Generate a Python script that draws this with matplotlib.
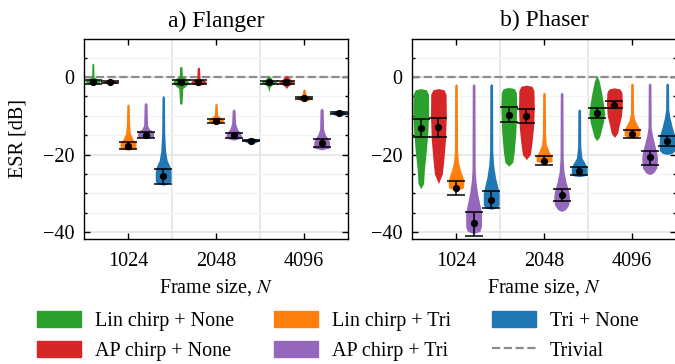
import numpy as np
import matplotlib
matplotlib.use("Agg")
import matplotlib.pyplot as plt
from matplotlib.patches import Patch
from matplotlib.lines import Line2D
from matplotlib.ticker import MultipleLocator, FixedLocator

plt.rcParams['font.family'] = 'serif'
plt.rcParams['font.serif'] = ['Liberation Serif', 'DejaVu Serif']
plt.rcParams['mathtext.fontset'] = 'stix'
plt.rcParams['font.size'] = 14.5

# frame sizes and methods
frame_sizes = ['1024', '2048', '4096']
methods = ['Lin chirp + None', 'AP chirp + None', 'Lin chirp + Tri',
           'AP chirp + Tri', 'Tri + None']
colors = ['#2ca02c', '#d62728', '#ff7f0e', '#9467bd', '#1f77b4']

# mean ESR and error bar ends [dB], rows = frame size, cols = method
flanger_mean = [[-1.3, -1.3, -17.7, -14.9, -25.5],
                [-1.4, -1.3, -11.4, -15.0, -16.4],
                [-1.4, -1.4, -5.5, -17.0, -9.3]]
flanger_lo = [[-1.7, -1.6, -18.6, -15.7, -27.5],
              [-1.9, -1.7, -11.9, -15.7, -16.6],
              [-1.8, -1.8, -5.8, -18.1, -9.5]]
flanger_hi = [[-0.9, -1.0, -16.9, -14.3, -23.7],
              [-0.9, -0.9, -10.8, -14.4, -16.2],
              [-1.0, -1.0, -5.2, -16.0, -9.1]]

phaser_mean = [[-13.2, -13.0, -28.6, -37.8, -31.7],
               [-9.7, -10.0, -21.6, -30.4, -24.3],
               [-9.3, -7.1, -14.7, -20.7, -16.6]]
phaser_lo = [[-15.4, -15.4, -30.5, -41.0, -33.9],
             [-11.7, -11.8, -22.6, -32.1, -25.2],
             [-10.6, -8.1, -15.7, -22.6, -17.9]]
phaser_hi = [[-10.8, -10.6, -26.9, -34.8, -29.5],
             [-7.8, -8.2, -20.5, -28.9, -23.3],
             [-8.0, -6.1, -13.7, -19.0, -15.3]]

# violin outlines: (ESR dB, relative half width)
flanger_shapes = [
    # 1024
    [(3.6, 0), (3.3, 0.12), (0.0, 0.15), (-0.6, 0.6), (-1.0, 1.0), (-1.5, 0.8), (-2.0, 0)],
    [(-0.7, 0), (-1.0, 0.6), (-1.3, 1.0), (-1.6, 0.6), (-1.9, 0)],
    [(-6.9, 0), (-7.3, 0.15), (-12, 0.2), (-14.5, 0.3), (-16, 0.6), (-16.8, 1.0), (-18.3, 1.0), (-18.7, 0.5), (-18.9, 0)],
    [(-6.5, 0), (-7.0, 0.18), (-12.5, 0.25), (-13.5, 0.5), (-14.1, 1.0), (-15.5, 1.0), (-15.8, 0)],
    [(-4.7, 0), (-5.2, 0.15), (-15, 0.2), (-19, 0.3), (-21.5, 0.5), (-23.3, 0.9), (-24.5, 1.0), (-27, 1.0), (-27.6, 0.6), (-27.9, 0)],
    # 2048
    [(2.8, 0), (2.5, 0.15), (0.2, 0.2), (-0.5, 0.7), (-1.3, 1.0), (-2.2, 0.7), (-3.0, 0.25), (-6.8, 0.15), (-7.1, 0)],
    [(2.6, 0), (2.3, 0.15), (-0.4, 0.2), (-0.8, 0.7), (-1.3, 1.0), (-1.8, 0.7), (-2.2, 0)],
    [(-6.7, 0), (-7.1, 0.15), (-9.8, 0.2), (-10.5, 0.6), (-11.2, 1.0), (-11.8, 0.7), (-12.2, 0)],
    [(-8.2, 0), (-8.6, 0.18), (-12, 0.25), (-13.5, 0.5), (-14.5, 0.9), (-15.5, 1.0), (-16.0, 0.6), (-16.3, 0)],
    [(-15.6, 0), (-15.9, 0.6), (-16.4, 1.0), (-16.9, 0.6), (-17.3, 0)],
    # 4096
    [(0.4, 0), (0.1, 0.15), (-0.8, 0.5), (-1.3, 1.0), (-1.9, 0.5), (-2.5, 0.15), (-3.9, 0)],
    [(0.4, 0), (0.1, 0.2), (-0.8, 0.6), (-1.3, 1.0), (-1.9, 0.6), (-2.4, 0.2), (-3.0, 0)],
    [(-3.0, 0), (-3.4, 0.15), (-4.6, 0.25), (-5.1, 0.8), (-5.5, 1.0), (-5.9, 0.7), (-6.3, 0)],
    [(-8.0, 0), (-8.5, 0.2), (-13.5, 0.25), (-15, 0.5), (-16.2, 0.9), (-17, 1.0), (-18.3, 1.0), (-18.8, 0)],
    [(-8.4, 0), (-8.8, 0.6), (-9.3, 1.0), (-9.8, 0.6), (-10.1, 0)],
]

phaser_shapes = [
    # 1024
    [(-3.0, 0), (-3.3, 0.7), (-4.5, 0.97), (-9, 1.0), (-14, 0.9), (-19, 0.7), (-24, 0.45), (-27.5, 0.35), (-28.8, 0)],
    [(-3.0, 0), (-3.3, 0.7), (-4.5, 0.97), (-10, 1.0), (-16, 0.9), (-21, 0.7), (-25, 0.5), (-27.5, 0)],
    [(-1.7, 0), (-2.1, 0.17), (-19, 0.2), (-21.8, 0.3), (-24, 0.55), (-26, 0.9), (-27.5, 1.0), (-28.7, 0.9), (-29.2, 0)],
    [(-1.7, 0), (-2.1, 0.17), (-24, 0.2), (-27, 0.3), (-30, 0.5), (-33, 0.8), (-35, 1.0), (-38.5, 1.0), (-39.8, 0.8), (-40.4, 0)],
    [(-1.7, 0), (-2.1, 0.17), (-19, 0.2), (-22.6, 0.3), (-26, 0.55), (-28.5, 0.85), (-30, 1.0), (-33, 1.0), (-33.8, 0.7), (-34.1, 0)],
    # 2048
    [(-2.7, 0), (-3.0, 0.7), (-4.0, 0.95), (-8, 1.0), (-14, 0.9), (-19, 0.7), (-22, 0.5), (-23.0, 0)],
    [(-2.1, 0), (-2.4, 0.7), (-3.5, 0.95), (-8, 1.0), (-13, 0.9), (-17, 0.7), (-20, 0.5), (-21.3, 0)],
    [(-3.9, 0), (-4.3, 0.17), (-15, 0.2), (-17.5, 0.3), (-19.5, 0.7), (-20.5, 1.0), (-21.8, 1.0), (-22.3, 0)],
    [(-3.9, 0), (-4.3, 0.17), (-21, 0.2), (-24.3, 0.3), (-27, 0.55), (-29.5, 0.9), (-31, 1.0), (-33, 0.9), (-34.2, 0.5), (-34.7, 0)],
    [(-8.2, 0), (-8.6, 0.17), (-18, 0.2), (-20.9, 0.35), (-22.5, 0.8), (-23.5, 1.0), (-25, 1.0), (-25.5, 0.7), (-25.7, 0)],
    # 4096
    [(0.4, 0), (-1, 0.3), (-4, 0.6), (-7, 0.85), (-9.5, 1.0), (-11.5, 0.85), (-13.5, 0.6), (-15.5, 0.35), (-16.4, 0)],
    [(-2.8, 0), (-3.1, 0.7), (-4.0, 0.95), (-7, 1.0), (-10, 0.9), (-12.5, 0.6), (-14.5, 0.4), (-15.6, 0)],
    [(-1.5, 0), (-1.9, 0.17), (-9.5, 0.2), (-11, 0.35), (-12.5, 0.7), (-13.5, 1.0), (-15, 1.0), (-15.6, 0.6), (-15.8, 0)],
    [(-1.5, 0), (-1.9, 0.17), (-13, 0.2), (-15, 0.35), (-17.5, 0.65), (-19.5, 0.9), (-21, 1.0), (-23.5, 0.9), (-24.7, 0.5), (-25.2, 0)],
    [(-1.5, 0), (-1.9, 0.17), (-8.5, 0.2), (-10.5, 0.35), (-13, 0.65), (-15, 0.95), (-16, 1.0), (-19, 1.0), (-19.7, 0.6), (-20.0, 0)],
]

offsets = [-0.4, -0.2, 0.0, 0.2, 0.4]
half_w = 0.09


def draw_panel(ax, shapes, mean, lo, hi, title):
    '''
    draws the violins, error bars and the trivial baseline on one axes
    '''
    ax.axhline(0, color='#8c8c8c', lw=1.6, ls='--', zorder=1)
    for g in range(len(frame_sizes)):
        for m in range(len(methods)):
            x = g + offsets[m]
            knots = np.array(shapes[g * len(methods) + m])
            ax.fill_betweenx(knots[:, 0], x - knots[:, 1] * half_w,
                             x + knots[:, 1] * half_w,
                             color=colors[m], lw=0, zorder=2)
            mu = mean[g][m]
            ax.errorbar(x, mu, yerr=[[mu - lo[g][m]], [hi[g][m] - mu]],
                        fmt='o', color='black', ms=4.2, elinewidth=1.1,
                        capsize=6.3, capthick=1.1, zorder=3)
    ax.set_xlim(-0.5, 2.5)
    ax.set_ylim(-41.8, 9.8)
    ax.set_xticks(range(len(frame_sizes)))
    ax.set_xticklabels(frame_sizes)
    ax.xaxis.set_minor_locator(FixedLocator([0.5, 1.5]))
    ax.yaxis.set_major_locator(MultipleLocator(20))
    ax.yaxis.set_minor_locator(MultipleLocator(5))
    ax.tick_params(which='both', direction='in', top=True, right=True, width=1.0)
    ax.tick_params(which='major', length=4.5)
    ax.tick_params(which='minor', length=2.5)
    ax.tick_params(axis='x', which='minor', length=0)
    ax.tick_params(axis='y', pad=7)
    ax.tick_params(axis='x', pad=9)
    ax.grid(axis='y', which='major', color='#e4e4e4', lw=1.2)
    ax.grid(axis='y', which='minor', color='#f2f2f2', lw=0.9)
    ax.grid(axis='x', which='minor', color='#e4e4e4', lw=1.2)
    ax.set_axisbelow(True)
    for s in ax.spines.values():
        s.set_linewidth(1.0)
    ax.set_title(title, fontsize=17, pad=9)
    ax.set_xlabel('Frame size, $N$', labelpad=5)


fig = plt.figure(figsize=(6.75, 3.64), dpi=100)
ax1 = fig.add_axes([84 / 675, 125 / 364, 264 / 675, 200 / 364])
ax2 = fig.add_axes([412 / 675, 125 / 364, 264 / 675, 200 / 364])

draw_panel(ax1, flanger_shapes, flanger_mean, flanger_lo, flanger_hi, 'a) Flanger')
draw_panel(ax2, phaser_shapes, phaser_mean, phaser_lo, phaser_hi, 'b) Phaser')
ax1.set_ylabel('ESR [dB]', labelpad=11)

handles = [Patch(color=c, label=l) for c, l in zip(colors, methods)]
handles.append(Line2D([], [], color='#8c8c8c', lw=1.6, ls='--', label='Trivial'))
fig.legend(handles=handles, ncol=3, loc='upper left',
           bbox_to_anchor=(36.6 / 675, 1 - 311 / 364), frameon=False,
           borderpad=0, borderaxespad=0, handlelength=2.19, handleheight=0.85,
           handletextpad=0.7, columnspacing=2.0, labelspacing=0.48)

fig.savefig('out.png', dpi=100)
